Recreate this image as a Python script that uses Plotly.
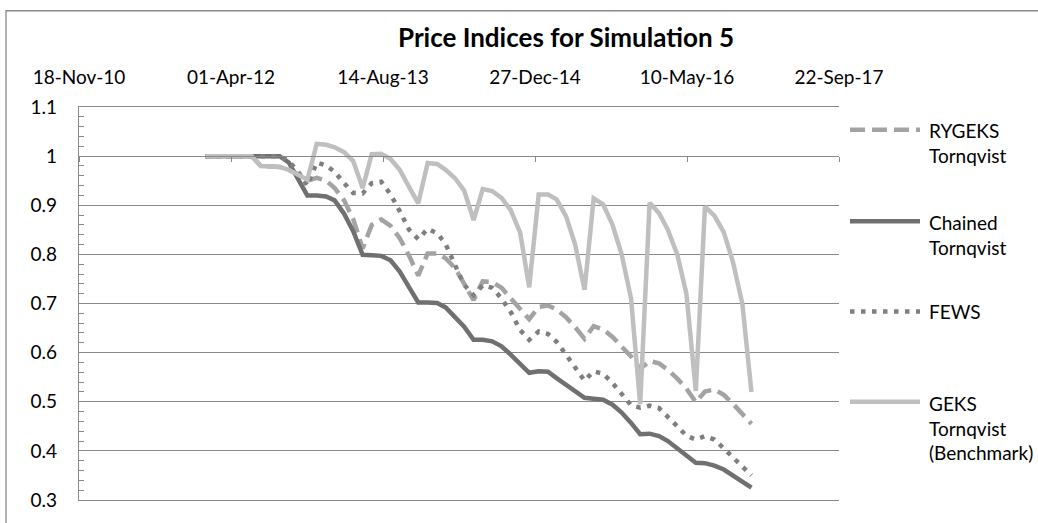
import pandas as pd
import plotly.graph_objects as go

# ---------------- data ----------------
months = pd.date_range("2012-01-01", periods=60, freq="MS") + pd.Timedelta(days=7)

rygeks = [1.0, 1.0, 1.0, 1.0, 1.0, 1.0, 0.98, 0.98, 0.978, 0.972, 0.963, 0.95,
          0.956, 0.95, 0.935, 0.91, 0.872, 0.812,
          0.86, 0.871, 0.858, 0.833, 0.797, 0.757,
          0.802, 0.802, 0.792, 0.772, 0.742, 0.707,
          0.745, 0.744, 0.732, 0.712, 0.688, 0.668,
          0.693, 0.696, 0.688, 0.672, 0.652, 0.628,
          0.654, 0.647, 0.632, 0.613, 0.592, 0.567,
          0.583, 0.578, 0.565, 0.547, 0.527, 0.499,
          0.521, 0.525, 0.514, 0.496, 0.476, 0.455]

chained = [1.0, 1.0, 1.0, 1.0, 1.0, 1.0, 1.0, 1.0, 1.0, 0.987, 0.955, 0.92,
           0.92, 0.918, 0.91, 0.883, 0.847, 0.799,
           0.798, 0.797, 0.788, 0.765, 0.733, 0.702,
           0.702, 0.701, 0.692, 0.673, 0.653, 0.626,
           0.626, 0.623, 0.613, 0.596, 0.576, 0.559,
           0.562, 0.561, 0.548, 0.534, 0.52, 0.508,
           0.506, 0.504, 0.494, 0.478, 0.457, 0.434,
           0.435, 0.43, 0.42, 0.405, 0.39, 0.376,
           0.375, 0.37, 0.362, 0.35, 0.337, 0.325]

fews = [1.0, 1.0, 1.0, 1.0, 1.0, 1.0, 1.0, 1.0, 1.0, 0.99, 0.968, 0.94,
        0.987, 0.981, 0.968, 0.945, 0.925, 0.924,
        0.945, 0.948, 0.922, 0.888, 0.85, 0.831,
        0.852, 0.843, 0.821, 0.778, 0.738, 0.717,
        0.737, 0.732, 0.71, 0.683, 0.646, 0.626,
        0.643, 0.638, 0.622, 0.596, 0.568, 0.543,
        0.562, 0.557, 0.538, 0.515, 0.493, 0.488,
        0.492, 0.487, 0.47, 0.45, 0.431, 0.423,
        0.43, 0.423, 0.405, 0.387, 0.366, 0.35]

geks = [1.0, 1.0, 1.0, 1.0, 1.0, 1.0, 0.98, 0.98, 0.978, 0.972, 0.963, 0.952,
        1.025, 1.023, 1.018, 1.008, 0.99, 0.935,
        1.004, 1.005, 0.994, 0.972, 0.937, 0.904,
        0.986, 0.984, 0.972, 0.955, 0.93, 0.87,
        0.933, 0.929, 0.915, 0.89, 0.845, 0.733,
        0.922, 0.922, 0.912, 0.878, 0.82, 0.728,
        0.914, 0.902, 0.86, 0.80, 0.71, 0.495,
        0.905, 0.884, 0.85, 0.80, 0.72, 0.522,
        0.897, 0.879, 0.845, 0.785, 0.70, 0.52]

x_tick_dates = ["2010-11-18", "2012-04-01", "2013-08-14", "2014-12-27", "2016-05-10", "2017-09-22"]
x_tick_labels = ["18-Nov-10", "01-Apr-12", "14-Aug-13", "27-Dec-14", "10-May-16", "22-Sep-17"]
y_tick_vals = [0.3, 0.4, 0.5, 0.6, 0.7, 0.8, 0.9, 1.0, 1.1]
y_tick_labels = ["0.3", "0.4", "0.5", "0.6", "0.7", "0.8", "0.9", "1", "1.1"]

series_names = ["RYGEKS<br>Tornqvist", "Chained<br>Tornqvist", "FEWS", "GEKS<br>Tornqvist<br>(Benchmark)"]
series_values = [rygeks, chained, fews, geks]
series_colors = ["#A3A3A3", "#707070", "#7F7F7F", "#BFBFBF"]
series_dash = ["15px,7px", "solid", "4.5px,6.5px", "solid"]

# ---------------- layout geometry (pixels) ----------------
W, H = 1038, 523
L, R, T, B = 79, 839, 107, 503
FONT = "Lato"
GRID = "#898989"

def px_x(p):
    return (p - L) / (R - L)

def px_y(p):
    return (B - p) / (B - T)

fig = go.Figure()
for name, vals, col, dash in zip(series_names, series_values, series_colors, series_dash):
    fig.add_trace(go.Scatter(x=months, y=vals, mode="lines", name=name,
                             line=dict(color=col, width=4.5, dash=dash),
                             showlegend=False))

# helper trace so the crossing axis (at y = 1) is built
fig.add_trace(go.Scatter(x=months[:1], y=chained[:1], xaxis="x2", mode="markers",
                         marker=dict(opacity=0), showlegend=False, hoverinfo="skip"))

fig.update_layout(
    width=W, height=H, autosize=False,
    margin=dict(l=L, r=W - R, t=T, b=H - B, pad=0),
    paper_bgcolor="white", plot_bgcolor="white",
    font=dict(family=FONT, size=19, color="#000000"),
    xaxis=dict(type="date", side="top", range=["2010-11-18", "2017-09-22"],
               tickmode="array", tickvals=x_tick_dates, ticktext=x_tick_labels,
               ticks="", showgrid=False, showline=True, mirror=True,
               linecolor=GRID, linewidth=1.3, ticklabelstandoff=14,
               tickfont=dict(family=FONT, size=19, color="#000000"), zeroline=False),
    xaxis2=dict(type="date", overlaying="x", matches="x", anchor="free", position=(1.0 - 0.3) / 0.8,
                side="bottom", tickmode="array", tickvals=x_tick_dates,
                ticks="outside", ticklen=5, tickwidth=1.3, tickcolor=GRID,
                showticklabels=False, showgrid=False, showline=True,
                linecolor=GRID, linewidth=1.3, zeroline=False),
    yaxis=dict(range=[0.3, 1.1], tickmode="array", tickvals=y_tick_vals, ticktext=y_tick_labels,
               ticks="inside", ticklen=5, tickwidth=1.3, tickcolor=GRID,
               showgrid=True, gridcolor=GRID, gridwidth=1.3,
               showline=True, linecolor=GRID, linewidth=1.3, zeroline=False,
               ticklabelstandoff=17,
               minor=dict(tick0=0.3, dtick=0.02, ticks="inside", ticklen=5,
                          tickwidth=1.3, tickcolor=GRID, showgrid=False),
               tickfont=dict(family=FONT, size=19, color="#000000")),
    showlegend=False,
)

# title
fig.add_annotation(text="<b>Price Indices for Simulation 5</b>", xref="paper", yref="paper",
                   x=px_x(566), y=px_y(36), xanchor="center", yanchor="middle",
                   showarrow=False, font=dict(family=FONT, size=26, color="#000000"))

# outer chart border
fig.add_shape(type="rect", xref="paper", yref="paper",
              x0=px_x(6), x1=px_x(1060), y0=px_y(10), y1=px_y(540),
              line=dict(color=GRID, width=1.3), fillcolor="rgba(0,0,0,0)", layer="below")

# legend (manual, to match the long sample lines)
leg_sym_y = [130, 222, 313, 404]
leg_txt_y = [143.5, 235.5, 313, 430]
for name, col, dash, sy, ty in zip(series_names, series_colors, series_dash, leg_sym_y, leg_txt_y):
    fig.add_shape(type="line", xref="paper", yref="paper",
                  x0=px_x(850), x1=px_x(920), y0=px_y(sy), y1=px_y(sy),
                  line=dict(color=col, width=4.5, dash=dash))
    fig.add_annotation(text=name, xref="paper", yref="paper", x=px_x(927), y=px_y(ty),
                       xanchor="left", yanchor="middle", align="left", showarrow=False,
                       font=dict(family=FONT, size=19, color="#000000"))

fig.write_html("out.html", config={"displayModeBar": False},
               post_script="document.body.style.margin='0';document.body.style.overflow='hidden';")
